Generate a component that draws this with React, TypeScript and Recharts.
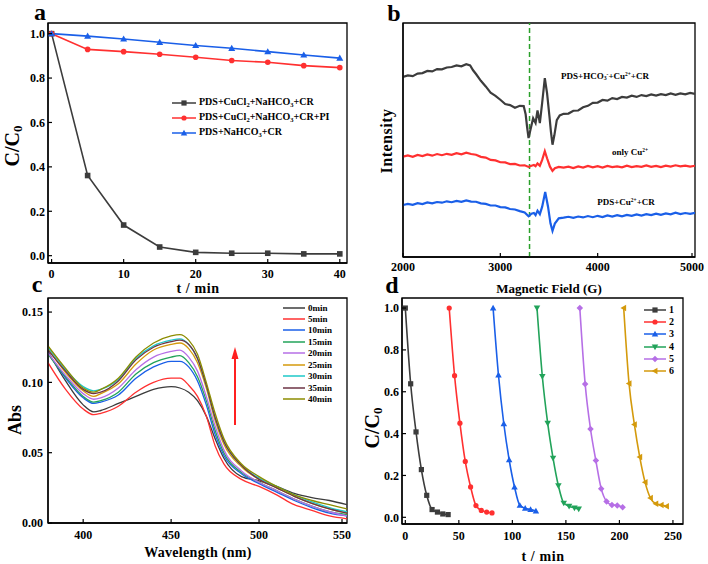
import React from "react";
import { LineChart, Line, XAxis, YAxis, ReferenceLine, ReferenceArea } from "recharts";

const SERIF = "'Liberation Serif', 'Times New Roman', serif";

// ---- panel a: degradation curves
const timeA = [0, 5, 10, 15, 20, 25, 30, 35, 40];
const cuclNahco3 = [1.0, 0.361, 0.138, 0.039, 0.015, 0.011, 0.011, 0.008, 0.008];
const cuclNahco3Pi = [1.0, 0.929, 0.919, 0.907, 0.894, 0.879, 0.871, 0.856, 0.847];
const nahco3Only = [1.0, 0.989, 0.976, 0.961, 0.947, 0.934, 0.919, 0.904, 0.89];

// ---- panel b: EPR spectra [field G, intensity a.u.]
const eprMix: [number, number][] = [
  [2000, 77.0], [2050, 77.6], [2100, 77.3], [2150, 78.4], [2200, 78.6], [2250, 79.5], [2300, 79.3],
  [2350, 80.3], [2400, 80.2], [2450, 81.0], [2500, 81.2], [2550, 81.9], [2600, 81.5], [2650, 82.4],
  [2690, 81.9], [2720, 79.8], [2750, 78.2], [2800, 75.3], [2850, 72.9], [2900, 70.2], [2950, 68.9],
  [3000, 67.2], [3050, 65.4], [3100, 64.9], [3150, 63.8], [3200, 64.6], [3240, 64.5], [3260, 61.0],
  [3275, 55.5], [3290, 50.8], [3310, 54.5], [3337, 59.3], [3362, 57.3], [3382, 62.6], [3406, 57.2],
  [3430, 66.0], [3457, 76.4], [3480, 70.0], [3505, 60.0], [3520, 53.5], [3536, 48.0], [3555, 52.0],
  [3580, 58.5], [3610, 60.5], [3650, 61.2], [3700, 61.3], [3750, 62.5], [3800, 62.6], [3850, 64.0],
  [3900, 64.6], [3950, 65.9], [4000, 66.0], [4050, 67.1], [4100, 66.8], [4150, 67.9], [4200, 67.5],
  [4250, 68.4], [4300, 68.1], [4350, 68.9], [4400, 68.4], [4450, 69.2], [4500, 68.8], [4550, 69.5],
  [4600, 69.0], [4650, 69.6], [4700, 69.2], [4750, 69.9], [4800, 69.3], [4850, 69.9], [4900, 69.5],
  [4950, 70.1], [5000, 69.7],
];
const eprCu: [number, number][] = [
  [2000, 42.9], [2050, 43.4], [2100, 42.8], [2150, 43.6], [2200, 43.1], [2250, 43.8], [2300, 43.3],
  [2350, 44.0], [2400, 43.5], [2450, 44.1], [2500, 43.7], [2550, 44.4], [2600, 43.9], [2650, 44.6],
  [2700, 44.0], [2750, 43.7], [2800, 42.8], [2850, 42.5], [2900, 41.5], [2950, 41.3], [3000, 40.5],
  [3050, 40.4], [3100, 39.7], [3150, 39.8], [3200, 39.1], [3250, 39.2], [3290, 38.5], [3320, 39.0],
  [3345, 39.3], [3362, 38.8], [3382, 40.0], [3406, 39.0], [3430, 41.5], [3457, 45.2], [3480, 42.2],
  [3510, 38.6], [3536, 36.8], [3560, 37.9], [3600, 38.5], [3650, 38.2], [3700, 38.6], [3750, 38.0],
  [3800, 38.7], [3850, 38.2], [3900, 38.9], [3950, 38.3], [4000, 38.8], [4050, 38.2], [4100, 38.9],
  [4150, 38.4], [4200, 38.7], [4250, 38.3], [4300, 39.0], [4350, 38.4], [4400, 38.8], [4450, 38.5],
  [4500, 39.1], [4550, 38.5], [4600, 38.9], [4650, 38.4], [4700, 39.0], [4750, 38.6], [4800, 39.2],
  [4850, 38.7], [4900, 39.0], [4950, 38.6], [5000, 39.0],
];
const eprPdsCu: [number, number][] = [
  [2000, 22.2], [2050, 22.7], [2100, 22.3], [2150, 23.0], [2200, 22.6], [2250, 23.3], [2300, 22.9],
  [2350, 23.5], [2400, 23.2], [2450, 23.8], [2500, 23.4], [2550, 24.0], [2600, 23.6], [2650, 24.2],
  [2700, 23.7], [2750, 23.6], [2800, 22.9], [2850, 22.7], [2900, 22.0], [2950, 22.0], [3000, 21.3],
  [3050, 21.2], [3100, 20.5], [3150, 20.3], [3200, 19.6], [3250, 19.0], [3290, 17.4], [3320, 18.5],
  [3345, 18.8], [3362, 17.9], [3382, 19.8], [3406, 18.3], [3430, 21.5], [3461, 27.8], [3490, 21.5],
  [3515, 14.4], [3536, 11.2], [3560, 14.3], [3600, 16.5], [3650, 16.8], [3700, 17.2], [3750, 16.7],
  [3800, 17.3], [3850, 16.9], [3900, 17.5], [3950, 17.0], [4000, 17.6], [4050, 17.1], [4100, 17.8],
  [4150, 17.3], [4200, 17.9], [4250, 17.4], [4300, 18.0], [4350, 17.6], [4400, 18.2], [4450, 17.7],
  [4500, 18.3], [4550, 17.9], [4600, 18.5], [4650, 18.0], [4700, 18.6], [4750, 18.2], [4800, 18.9],
  [4850, 18.3], [4900, 18.8], [4950, 18.4], [5000, 18.9],
];

// ---- panel c: UV-vis spectra
const wavelengths = [380, 390, 400, 406, 410, 420, 430, 440, 450, 455, 460, 465, 470, 475, 480, 490, 500, 510, 520, 530, 540, 550];
const abs0 = [0.122, 0.101, 0.084, 0.079, 0.080, 0.085, 0.090, 0.095, 0.097, 0.096, 0.093, 0.087, 0.076, 0.060, 0.046, 0.033, 0.030, 0.026, 0.021, 0.018, 0.016, 0.013];
const abs5 = [0.114, 0.095, 0.081, 0.077, 0.078, 0.083, 0.093, 0.100, 0.103, 0.103, 0.098, 0.090, 0.076, 0.055, 0.042, 0.031, 0.026, 0.020, 0.013, 0.009, 0.005, 0.003];
const abs10 = [0.121, 0.103, 0.089, 0.085, 0.086, 0.091, 0.103, 0.111, 0.115, 0.115, 0.111, 0.101, 0.084, 0.063, 0.048, 0.035, 0.028, 0.022, 0.016, 0.011, 0.007, 0.005];
const abs15 = [0.120, 0.104, 0.090, 0.086, 0.087, 0.093, 0.106, 0.114, 0.118, 0.119, 0.114, 0.104, 0.087, 0.066, 0.050, 0.036, 0.029, 0.023, 0.017, 0.012, 0.008, 0.006];
const abs20 = [0.121, 0.105, 0.092, 0.088, 0.089, 0.096, 0.109, 0.118, 0.122, 0.123, 0.118, 0.108, 0.090, 0.069, 0.052, 0.037, 0.029, 0.023, 0.017, 0.012, 0.008, 0.005];
const abs25 = [0.124, 0.107, 0.094, 0.090, 0.092, 0.099, 0.113, 0.123, 0.127, 0.128, 0.124, 0.114, 0.096, 0.073, 0.056, 0.040, 0.031, 0.025, 0.019, 0.014, 0.010, 0.007];
const abs30 = [0.125, 0.109, 0.097, 0.094, 0.095, 0.102, 0.117, 0.126, 0.130, 0.131, 0.127, 0.117, 0.098, 0.075, 0.058, 0.041, 0.032, 0.026, 0.020, 0.015, 0.011, 0.008];
const abs35 = [0.123, 0.108, 0.095, 0.092, 0.093, 0.101, 0.116, 0.125, 0.129, 0.130, 0.127, 0.117, 0.098, 0.075, 0.058, 0.041, 0.031, 0.025, 0.019, 0.014, 0.010, 0.007];
const abs40 = [0.126, 0.110, 0.096, 0.093, 0.095, 0.103, 0.118, 0.128, 0.133, 0.134, 0.130, 0.120, 0.100, 0.078, 0.060, 0.042, 0.033, 0.026, 0.020, 0.016, 0.013, 0.010];
const spectraLabels = ["0min", "5min", "10min", "15min", "20min", "25min", "30min", "35min", "40min"];
const spectraColors = ["#3c3c3c", "#ff3030", "#1a5fe8", "#22a35a", "#b66fe6", "#d49a0c", "#1ec8c8", "#6d3344", "#8c8c00"];

// ---- panel d: cycling runs
const runTimes = [
  [0, 5, 10, 15, 20, 25, 30, 35, 40],
  [41, 46, 51, 56, 61, 66, 71, 76, 81],
  [82, 87, 92, 97, 102, 107, 112, 117, 122],
  [123, 128, 133, 138, 143, 148, 153, 158, 162],
  [163, 168, 173, 178, 183, 188, 193, 198, 203],
  [204, 209, 214, 219, 224, 229, 234, 239, 244],
];
const runValues = [
  [1.0, 0.638, 0.408, 0.228, 0.105, 0.037, 0.025, 0.016, 0.013],
  [1.0, 0.677, 0.45, 0.267, 0.145, 0.056, 0.033, 0.025, 0.021],
  [1.0, 0.68, 0.447, 0.275, 0.145, 0.057, 0.043, 0.037, 0.03],
  [1.0, 0.673, 0.45, 0.283, 0.151, 0.068, 0.053, 0.045, 0.04],
  [1.0, 0.637, 0.422, 0.271, 0.137, 0.076, 0.059, 0.056, 0.048],
  [1.0, 0.639, 0.443, 0.288, 0.167, 0.092, 0.065, 0.059, 0.053],
];
const runLabels = ["1", "2", "3", "4", "5", "6"];
const runColors = ["#3c3c3c", "#ff3030", "#1a5fe8", "#22a35a", "#b66fe6", "#d49a0c"];
const runShapes = ["square", "circle", "up", "down", "diamond", "left"];

// ---------- helpers
function Mark({ shape, cx, cy, r, color }: any) {
  if (cx == null || cy == null) return null;
  if (shape === "circle") return <circle cx={cx} cy={cy} r={r} fill={color} />;
  if (shape === "square") return <rect x={cx - r} y={cy - r} width={2 * r} height={2 * r} fill={color} />;
  let pts = "";
  const k = r * 1.25;
  if (shape === "up") pts = `${cx},${cy - k} ${cx + k},${cy + k * 0.75} ${cx - k},${cy + k * 0.75}`;
  if (shape === "down") pts = `${cx},${cy + k} ${cx + k},${cy - k * 0.75} ${cx - k},${cy - k * 0.75}`;
  if (shape === "left") pts = `${cx - k},${cy} ${cx + k * 0.75},${cy - k} ${cx + k * 0.75},${cy + k}`;
  if (shape === "diamond") pts = `${cx},${cy - k} ${cx + k},${cy} ${cx},${cy + k} ${cx - k},${cy}`;
  return <polygon points={pts} fill={color} />;
}

const tickText = { fontFamily: SERIF, fontWeight: 700, fontSize: 12, fill: "#000" };

// ticks point inward, like the original plot
const makeXTick = (gap: number, fmt: (v: number) => string) => (props: any) => {
  const { x, y, payload } = props;
  return (
    <g>
      <line x1={x} y1={y - gap} x2={x} y2={y - gap - 4} stroke="#000" strokeWidth={1.2} />
      <text x={x} y={y} dy="0.71em" textAnchor="middle" {...tickText}>{fmt(payload.value)}</text>
    </g>
  );
};

const makeYTick = (gap: number, fmt: (v: number) => string) => (props: any) => {
  const { x, y, payload } = props;
  return (
    <g>
      <line x1={x + gap} y1={y} x2={x + gap + 4} y2={y} stroke="#000" strokeWidth={1.2} />
      <text x={x} y={y} dy="0.355em" textAnchor="end" {...tickText}>{fmt(payload.value)}</text>
    </g>
  );
};

function Txt({ x, y, size, rotate, left, children, style }: any) {
  return (
    <div
      style={{
        position: "absolute",
        left: x,
        top: y,
        transform: `translate(${left ? "0" : "-50%"}, -50%)${rotate ? " rotate(-90deg)" : ""}`,
        fontFamily: SERIF,
        fontWeight: 700,
        fontSize: size,
        whiteSpace: "nowrap",
        lineHeight: 1,
        color: "#000",
        ...style,
      }}
    >
      {children}
    </div>
  );
}

const sub = { fontSize: "0.65em", verticalAlign: "-0.25em" };
const sup = { fontSize: "0.6em", verticalAlign: "0.5em" };

function LegendRow({ x, y, color, shape, width, label, size }: any) {
  return (
    <>
      <svg style={{ position: "absolute", left: x, top: y - 5 }} width={width} height={10}>
        <line x1={0} y1={5} x2={width} y2={5} stroke={color} strokeWidth={1.5} />
        {shape && <Mark shape={shape} cx={width / 2} cy={5} r={2.6} color={color} />}
      </svg>
      <Txt x={x + width + 3} y={y} size={size} left>{label}</Txt>
    </>
  );
}

const axisLine = { stroke: "#000", strokeWidth: 1.3 };

const domA: [number, number] = [-0.5, 41];
const yDomA: [number, number] = [-0.033, 1.048];
const domB: [number, number] = [2000, 5000];
const yDomB: [number, number] = [0, 100];
const domC: [number, number] = [380, 550];
const yDomC: [number, number] = [0, 0.16];
const domD: [number, number] = [-3.1, 259.4];
const yDomD: [number, number] = [-0.032, 1.048];

export default function App() {
  const dataA = timeA.map((t, i) => ({ t, black: cuclNahco3[i], red: cuclNahco3Pi[i], blue: nahco3Only[i] }));
  const allAbs = [abs0, abs5, abs10, abs15, abs20, abs25, abs30, abs35, abs40];
  const dataC = wavelengths.map((w, i) => {
    const row: any = { w };
    allAbs.forEach((s, k) => (row["s" + k] = s[i]));
    return row;
  });
  const eprSeries = [
    { data: eprMix, color: "#3c3c3c" },
    { data: eprCu, color: "#ff3030" },
    { data: eprPdsCu, color: "#1a5fe8" },
  ];
  const seriesA = [
    { key: "black", color: "#3c3c3c", shape: "square" },
    { key: "red", color: "#ff3030", shape: "circle" },
    { key: "blue", color: "#1a5fe8", shape: "up" },
  ];

  return (
    <div style={{ position: "absolute", left: 0, top: 0, width: 708, height: 564, background: "#fff", overflow: "hidden" }}>
      {/* panel a */}
      <div style={{ position: "absolute", left: 0, top: 0 }}>
        <LineChart width={354} height={282} data={dataA} margin={{ top: 23, right: 7, left: 0, bottom: 0 }}>
          <XAxis dataKey="t" type="number" domain={domA} ticks={[0, 10, 20, 30, 40]} allowDataOverflow
            height={19} tickSize={0} tickMargin={6} axisLine={axisLine} tick={makeXTick(6, (v) => String(v))} />
          <YAxis type="number" domain={yDomA} ticks={[0, 0.2, 0.4, 0.6, 0.8, 1.0]} allowDataOverflow
            width={48} tickSize={0} tickMargin={3} axisLine={axisLine} tick={makeYTick(3, (v) => v.toFixed(1))} />
          <ReferenceArea x1={domA[0]} x2={domA[1]} y1={yDomA[0]} y2={yDomA[1]} fill="none" stroke="#000" strokeWidth={1.3} />
          {seriesA.map((s) => (
            <Line key={s.key} dataKey={s.key} type="linear" stroke={s.color} strokeWidth={1.6} isAnimationActive={false}
              dot={(p: any) => <Mark key={p.index} shape={s.shape} cx={p.cx} cy={p.cy} r={2.8} color={s.color} />} />
          ))}
        </LineChart>
      </div>

      {/* panel b */}
      <div style={{ position: "absolute", left: 354, top: 0 }}>
        <LineChart width={354} height={282} margin={{ top: 23, right: 13, left: 0, bottom: 0 }}>
          <XAxis dataKey="x" type="number" domain={domB} ticks={[2000, 3000, 4000, 5000]} allowDataOverflow
            height={25} tickSize={0} tickMargin={5} axisLine={axisLine} tick={makeXTick(5, (v) => String(v))} />
          <YAxis type="number" domain={yDomB} allowDataOverflow width={49} tick={false} tickLine={false} axisLine={axisLine} />
          <ReferenceArea x1={domB[0]} x2={domB[1]} y1={yDomB[0]} y2={yDomB[1]} fill="none" stroke="#000" strokeWidth={1.3} />
          <ReferenceLine x={3300} stroke="#2aa02a" strokeWidth={1.5} strokeDasharray="5 3" />
          {eprSeries.map((s, i) => (
            <Line key={i} data={s.data.map(([x, y]) => ({ x, y }))} dataKey="y" type="linear" stroke={s.color}
              strokeWidth={2.2} dot={false} isAnimationActive={false} />
          ))}
        </LineChart>
      </div>

      {/* panel c */}
      <div style={{ position: "absolute", left: 0, top: 282 }}>
        <LineChart width={354} height={282} data={dataC} margin={{ top: 16, right: 7, left: 0, bottom: 0 }}>
          <XAxis dataKey="w" type="number" domain={domC} ticks={[400, 450, 500, 550]} allowDataOverflow
            height={41} tickSize={0} tickMargin={7} axisLine={axisLine} tick={makeXTick(7, (v) => String(v))} />
          <YAxis type="number" domain={yDomC} ticks={[0, 0.05, 0.1, 0.15]} allowDataOverflow
            width={48} tickSize={0} tickMargin={5} axisLine={axisLine} tick={makeYTick(5, (v) => v.toFixed(2))} />
          <ReferenceArea x1={domC[0]} x2={domC[1]} y1={yDomC[0]} y2={yDomC[1]} fill="none" stroke="#000" strokeWidth={1.3} />
          {spectraColors.map((c, k) => (
            <Line key={k} dataKey={"s" + k} type="monotone" stroke={c} strokeWidth={1.3} dot={false} isAnimationActive={false} />
          ))}
        </LineChart>
      </div>

      {/* panel d */}
      <div style={{ position: "absolute", left: 354, top: 282 }}>
        <LineChart width={354} height={282} margin={{ top: 16, right: 25, left: 0, bottom: 0 }}>
          <XAxis dataKey="x" type="number" domain={domD} ticks={[0, 50, 100, 150, 200, 250]} allowDataOverflow
            height={40} tickSize={0} tickMargin={7} axisLine={axisLine} tick={makeXTick(7, (v) => String(v))} />
          <YAxis type="number" domain={yDomD} ticks={[0, 0.2, 0.4, 0.6, 0.8, 1.0]} allowDataOverflow
            width={48} tickSize={0} tickMargin={3} axisLine={axisLine} tick={makeYTick(3, (v) => v.toFixed(1))} />
          <ReferenceArea x1={domD[0]} x2={domD[1]} y1={yDomD[0]} y2={yDomD[1]} fill="none" stroke="#000" strokeWidth={1.3} />
          {runTimes.map((ts, k) => (
            <Line key={k} data={ts.map((x, i) => ({ x, y: runValues[k][i] }))} dataKey="y" type="monotone"
              stroke={runColors[k]} strokeWidth={1.6} isAnimationActive={false}
              dot={(p: any) => <Mark key={p.index} shape={runShapes[k]} cx={p.cx} cy={p.cy} r={2.6} color={runColors[k]} />} />
          ))}
        </LineChart>
      </div>

      {/* panel letters */}
      <Txt x={40} y={12} size={24}>a</Txt>
      <Txt x={394} y={13} size={24}>b</Txt>
      <Txt x={37} y={284} size={24}>c</Txt>
      <Txt x={392} y={285} size={24}>d</Txt>

      {/* axis titles */}
      <Txt x={13} y={146} size={20} rotate>C/C<span style={sub}>0</span></Txt>
      <Txt x={198} y={289} size={14} style={{ letterSpacing: 0.6 }}>t / min</Txt>
      <Txt x={387} y={141} size={16} rotate style={{ letterSpacing: 0.5 }}>Intensity</Txt>
      <Txt x={549} y={288} size={13}>Magnetic Field (G)</Txt>
      <Txt x={15} y={420} size={18} rotate>Abs</Txt>
      <Txt x={198} y={553} size={14} style={{ letterSpacing: 0.3 }}>Wavelength (nm)</Txt>
      <Txt x={373} y={428} size={20} rotate>C/C<span style={sub}>0</span></Txt>
      <Txt x={543} y={557} size={14} style={{ letterSpacing: 0.6 }}>t / min</Txt>

      {/* legend a */}
      <LegendRow x={172} y={103} width={24} color="#3c3c3c" shape="square" size={10}
        label={<>PDS+CuCl<span style={sub}>2</span>+NaHCO<span style={sub}>3</span>+CR</>} />
      <LegendRow x={172} y={118} width={24} color="#ff3030" shape="circle" size={10}
        label={<>PDS+CuCl<span style={sub}>2</span>+NaHCO<span style={sub}>3</span>+CR+PI</>} />
      <LegendRow x={172} y={133} width={24} color="#1a5fe8" shape="up" size={10}
        label={<>PDS+NaHCO<span style={sub}>3</span>+CR</>} />

      {/* labels b */}
      <Txt x={605} y={77} size={9}>PDS+HCO<span style={sub}>3</span><span style={sup}>-</span>+Cu<span style={sup}>2+</span>+CR</Txt>
      <Txt x={630} y={152} size={9}>only Cu<span style={sup}>2+</span></Txt>
      <Txt x={626} y={202} size={9}>PDS+Cu<span style={sup}>2+</span>+CR</Txt>

      {/* legend c */}
      {spectraLabels.map((l, k) => (
        <LegendRow key={l} x={283} y={307.5 + k * 11.45} width={22} color={spectraColors[k]} size={9} label={l} />
      ))}

      {/* arrow c */}
      <svg style={{ position: "absolute", left: 225, top: 340 }} width={20} height={90}>
        <line x1={10} y1={16} x2={10} y2={85} stroke="#ff2020" strokeWidth={2} />
        <polygon points="10,7 13.5,19 6.5,19" fill="#ff2020" />
      </svg>

      {/* legend d */}
      {runLabels.map((l, k) => (
        <LegendRow key={l} x={644} y={310 + k * 12.2} width={22} color={runColors[k]} shape={runShapes[k]} size={10} label={l} />
      ))}
    </div>
  );
}
